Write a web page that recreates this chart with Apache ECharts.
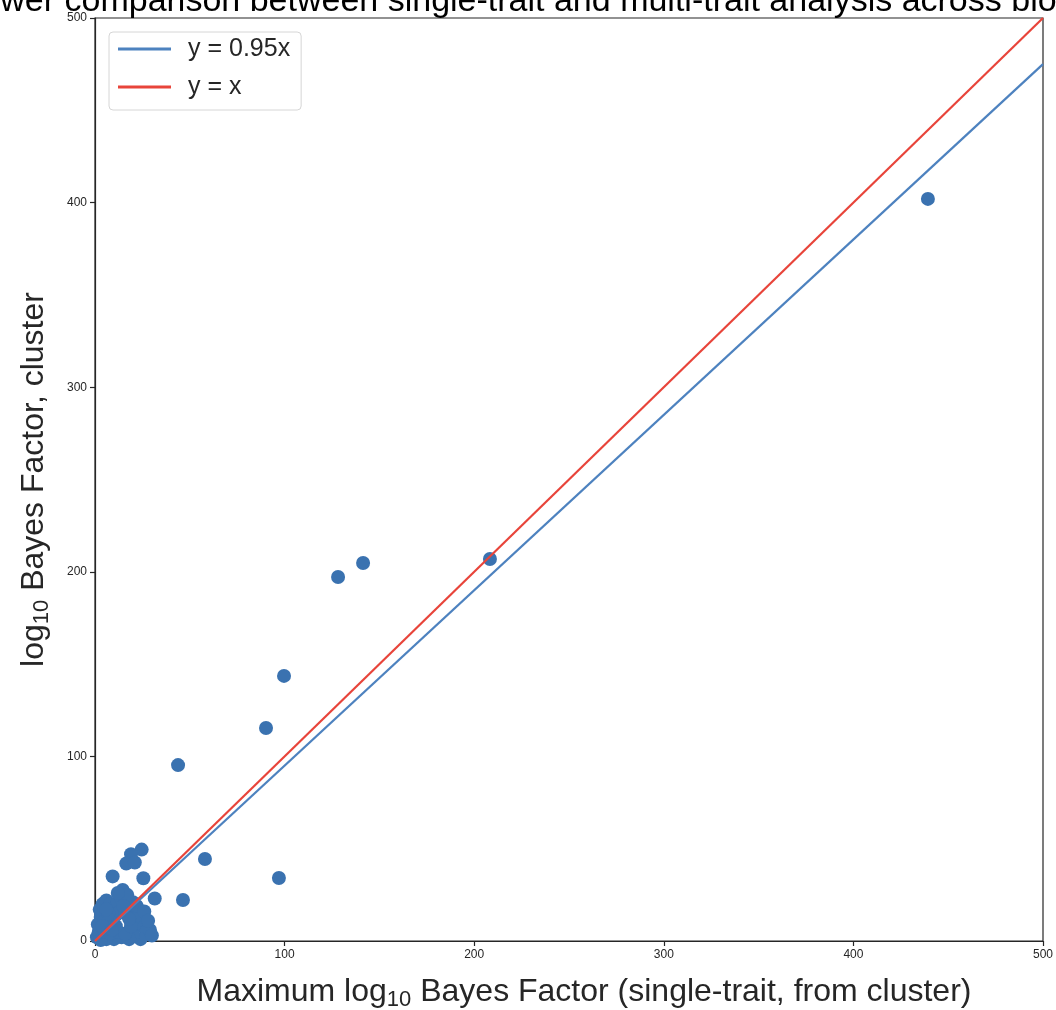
<!DOCTYPE html>
<html>
<head>
<meta charset="utf-8">
<script src="https://cdn.jsdelivr.net/npm/echarts@6/dist/echarts.min.js"></script>
<style>
  html, body { margin: 0; padding: 0; background: #fff; }
  #chart { width: 1056px; height: 1010px; }
</style>
</head>
<body>
<div id="chart"></div>
<script>
// Maximum single-trait log10 BF (x) vs. cluster log10 BF (y)
const singleTraitBF = [
  439.3, 208.3, 141.4, 128.2, 99.7, 90.2, 43.8, 58.0, 97.0, 46.4, 90.0, 72.0,
  24.6, 19.0, 16.5, 21.0, 9.3, 25.5, 14.6, 31.5, 29.0, 24.6,
  1, 2, 1.5, 3, 2.5, 4, 6, 8, 10, 12, 14, 17, 20, 23, 24, 22, 25, 27, 24, 20,
  18, 14, 10, 6, 3, 5, 7, 9, 11, 13, 16, 19, 21, 5, 7, 4, 8, 12, 16, 19, 18,
  11, 9, 6, 17, 12, 22, 26, 15, 30, 28
];
const clusterBF = [
  402.0, 206.9, 204.8, 197.2, 143.6, 115.4, 95.3, 44.4, 34.1, 22.2, -0.5, -4,
  49.5, 47.0, 42.0, 42.5, 35.0, 34.0, 27.6, 23.0, 6.0, -1.5,
  2, 5, 9, 13, 17, 20, 22, 20, 18, 21, 23, 19, 21, 17, 12, 8, 8, 5, 1, 3,
  1, 2, 1, 1, 0.5, 5, 8, 12, 14, 16, 15, 14, 13, 11, 15, 8, 4, 5, 4, 8, 12,
  8, 6, 17, 25, 26, 19, 16, 19, 3, 11
];

// Reference lines
const refX = [0, 500];
const slopeLineY = [0, 475];   // y = 0.95x
const identityY = [0, 500];    // y = x

const axisTicks = [0, 100, 200, 300, 400, 500];
const titleText = 'Power comparison between single-trait and multi-trait analysis across biobanks';

const points = singleTraitBF.map((x, i) => [x, clusterBF[i]]);
const pairs = (xs, ys) => xs.map((x, i) => [x, ys[i]]);

const FONT = 'Liberation Sans, Arial, sans-serif';
const INK = '#262626';

const chart = echarts.init(document.getElementById('chart'), null, { renderer: 'canvas' });

const axisCommon = {
  min: axisTicks[0],
  max: axisTicks[axisTicks.length - 1],
  interval: axisTicks[1] - axisTicks[0],
  axisLine: { show: true, lineStyle: { color: INK, width: 1.2 } },
  axisTick: { show: true, inside: false, length: 5, lineStyle: { color: INK, width: 1.2 } },
  axisLabel: { color: INK, fontSize: 12, fontFamily: FONT, margin: 8 },
  splitLine: { show: false }
};

const nameRich = {
  t: { fontSize: 32, fontFamily: FONT, color: INK },
  s: { fontSize: 22, fontFamily: FONT, color: INK, verticalAlign: 'bottom', padding: [16, 0, 0, 0] }
};

chart.setOption({
  animation: false,
  backgroundColor: '#fff',
  grid: {
    left: 95, right: 13, top: 18, bottom: 69,
    outerBoundsMode: 'none',
    containLabel: false,
    show: true, borderColor: INK, borderWidth: 1.2, backgroundColor: 'transparent'
  },
  xAxis: Object.assign({}, axisCommon, {
    type: 'value',
    name: '{t|Maximum log}{s|10}{t| Bayes Factor (single-trait, from cluster)}',
    nameLocation: 'middle',
    nameGap: 32,
    nameTextStyle: { rich: nameRich, padding: [0, 0, 0, 30] }
  }),
  yAxis: Object.assign({}, axisCommon, {
    type: 'value',
    name: '{t|log}{s|10}{t| Bayes Factor, cluster}',
    nameLocation: 'middle',
    nameGap: 42,
    nameTextStyle: { rich: nameRich }
  }),
  legend: {
    left: 109, top: 32,
    orient: 'vertical',
    data: ['y = 0.95x', 'y = x'],
    itemWidth: 53, itemHeight: 3, itemGap: 10,
    padding: [3, 11, 9, 9],
    backgroundColor: '#fff',
    borderColor: '#d6d6d6', borderWidth: 1, borderRadius: 4,
    textStyle: { fontSize: 25, lineHeight: 28, fontFamily: FONT, color: INK, padding: [0, 0, 0, 12] },
    icon: 'rect'
  },
  graphic: [{
    type: 'text',
    x: 553, y: 19,
    z: 100,
    style: {
      text: titleText,
      font: '34px ' + FONT,
      fill: '#000',
      textAlign: 'center',
      textVerticalAlign: 'bottom'
    }
  }],
  series: [
    {
      type: 'scatter',
      name: 'clusters',
      data: points,
      symbolSize: 14,
      clip: true,
      itemStyle: { color: '#3a72b0', opacity: 1 },
      z: 2
    },
    {
      type: 'line',
      name: 'y = 0.95x',
      data: pairs(refX, slopeLineY),
      showSymbol: false,
      clip: true,
      lineStyle: { color: '#4d82bf', width: 2.2 },
      itemStyle: { color: '#4d82bf' },
      z: 3
    },
    {
      type: 'line',
      name: 'y = x',
      data: pairs(refX, identityY),
      showSymbol: false,
      clip: true,
      lineStyle: { color: '#e8443a', width: 2.2 },
      itemStyle: { color: '#e8443a' },
      z: 4
    }
  ]
});
</script>
</body>
</html>
